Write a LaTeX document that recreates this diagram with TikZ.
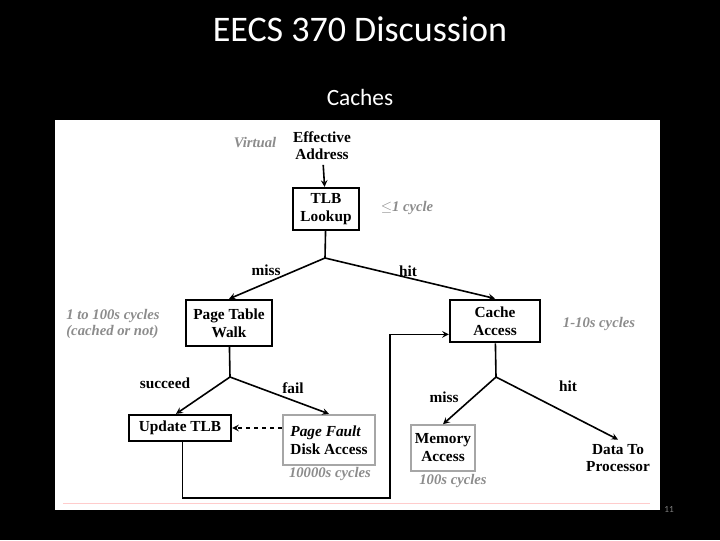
\documentclass[tikz,border=0pt]{standalone}
\usepackage{fontspec}
\setmainfont{Liberation Serif}
\newfontfamily\carlitofont{Carlito}
\begin{document}
\begin{tikzpicture}[x=0.75pt,y=-0.75pt,
 bx/.style={draw,line width=1.7pt,align=center,font=\bfseries\fontsize{11.5}{13.5}\selectfont,inner sep=1pt},
 gbx/.style={bx,draw=gray!70},
 lb/.style={font=\bfseries\fontsize{11.5}{13}\selectfont,align=center},
 gl/.style={font=\itshape\bfseries\fontsize{11}{12.5}\selectfont,text=gray!90,align=left},
 ar/.style={->,>=stealth,line width=1.2pt}]
\fill[black] (0,0) rectangle (720,540);
\useasboundingbox (0,0) rectangle (720,540);
\fill[white] (55,120) rectangle (660,510);
\node[text=white,font=\carlitofont\fontsize{27}{31}\selectfont] (title) at (360,29) {EECS 370 Discussion};
\node[text=white,font=\carlitofont\fontsize{17.5}{20}\selectfont] (sub) at (360,97) {Caches};
\node[text=gray,font=\carlitofont\fontsize{7}{8}\selectfont] (pg) at (669,509) {11};
\draw[red!20,line width=0.6pt] (63,503) -- (650,503);
\node[lb] (ea) at (322,146) {Effective\\Address};
\node[gl] (virt) at (255,143) {Virtual};
\node[bx,minimum width=50pt,minimum height=31.5pt] (tlb) at (326,209) {TLB\\Lookup};
\node[gl] (c1) at (407,208) {$\leq$\textit{1 cycle}};
\coordinate (j1) at (325,258);
\node[bx,minimum width=64.5pt,minimum height=34.5pt] (ptw) at (229,323) {Page Table\\Walk};
\node[bx,minimum width=67.5pt,minimum height=32pt] (ca) at (495,321) {Cache\\Access};
\node[gl] (c2) at (113,324) {1 to 100s cycles\\(cached or not)};
\node[gl] (c3) at (599,324) {1-10s cycles};
\node[lb] (miss1) at (266,270) {miss};
\node[lb] (hit1) at (408,271) {hit};
\coordinate (j2) at (230,377);
\node[lb] (succ) at (165,383) {succeed};
\node[lb] (fail) at (293,388) {fail};
\node[bx,minimum width=76.5pt,minimum height=19.5pt] (ut) at (180,428) {Update TLB};
\node[gbx,minimum width=69pt,minimum height=37.5pt,align=left] (pf) at (329,440) {\textit{Page Fault}\\Disk Access};
\node[gl] (c4) at (330,474) {10000s cycles};
\coordinate (j3) at (496,377);
\node[lb] (miss2) at (444,397) {miss};
\node[lb] (hit2) at (568,386) {hit};
\node[gbx,minimum width=48pt,minimum height=34pt] (mem) at (443,448) {Memory\\Access};
\node[gl] (c5) at (453,481) {100s cycles};
\node[lb] (dp) at (618,458) {Data To\\Processor};
\draw[ar] (ea) -- (tlb);
\draw[line width=1.2pt] (tlb) -- (j1);
\draw[ar] (j1) -- (ptw.north);
\draw[ar] (j1) -- (ca.north);
\draw[line width=1.2pt] (ptw) -- (j2);
\draw[ar] (j2) -- ([xshift=-3pt]ut.north);
\draw[ar] (j2) -- (pf.north);
\draw[ar,dashed] (pf.west |- ut.east) -- (ut.east);
\draw[line width=1.2pt] (ca) -- (j3);
\draw[ar] (j3) -- (mem.north);
\draw[ar] (j3) -- (dp.north);
\draw[ar] ([xshift=2pt]ut.south) |- (390,498) |- ([yshift=-10pt]ca.west);
\end{tikzpicture}
\end{document}
